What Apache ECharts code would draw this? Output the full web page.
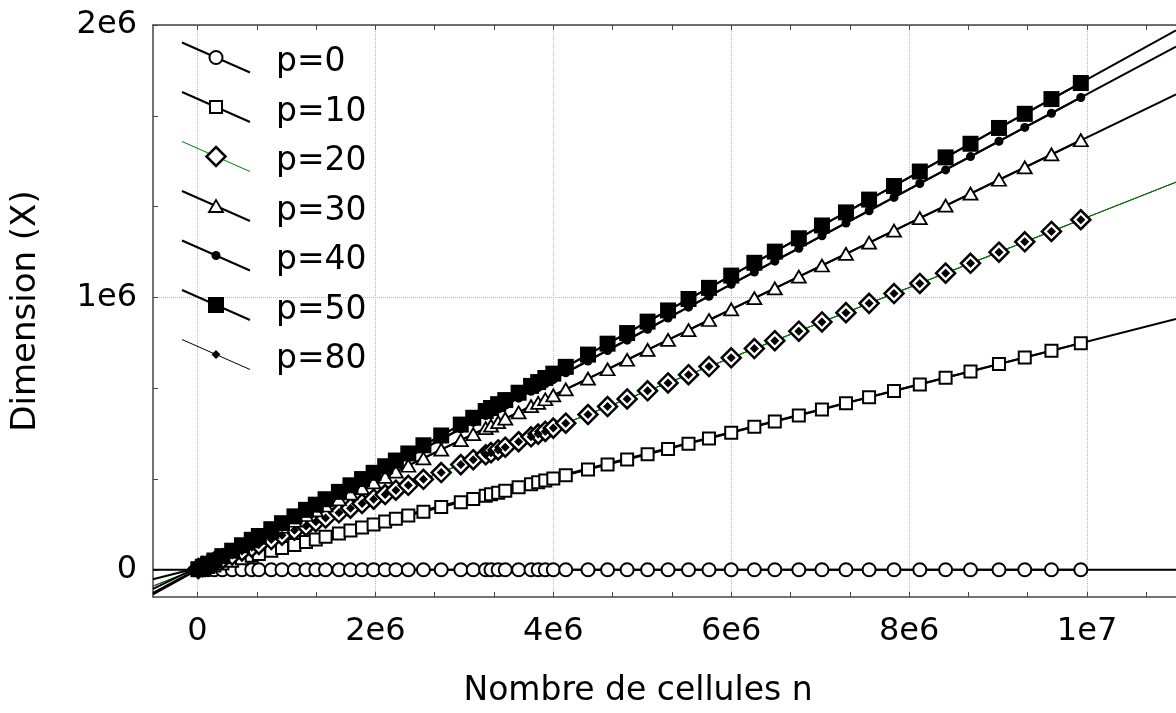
<!DOCTYPE html>
<html>
<head>
<meta charset="utf-8">
<script src="https://cdn.jsdelivr.net/npm/echarts@6/dist/echarts.min.js"></script>
<style>
html,body{margin:0;padding:0;background:#ffffff;}
#chart{width:1176px;height:713px;}
</style>
</head>
<body>
<div id="chart"></div>
<script>
// ---- data (x: number of cells n, in millions; y: dimension X, in millions) ----
const xValues = [0.01, 0.06, 0.12, 0.19, 0.28, 0.39, 0.50, 0.61, 0.69, 0.83,
  0.95, 1.09, 1.22, 1.33, 1.44, 1.59, 1.72, 1.85, 1.98, 2.11,
  2.23, 2.37, 2.54, 2.74, 2.96, 3.10, 3.24, 3.30, 3.38, 3.46,
  3.61, 3.75, 3.83, 3.91, 4.00, 4.14, 4.39, 4.61, 4.83, 5.06,
  5.29, 5.52, 5.75, 6.00, 6.26, 6.49, 6.76, 7.02, 7.29, 7.55,
  7.83, 8.12, 8.41, 8.69, 9.01, 9.30, 9.60, 9.93];

const yP0 = [0, 0, 0, 0, 0, 0, 0, 0, 0, 0,
  0, 0, 0, 0, 0, 0, 0, 0, 0, 0,
  0, 0, 0, 0, 0, 0, 0, 0, 0, 0,
  0, 0, 0, 0, 0, 0, 0, 0, 0, 0,
  0, 0, 0, 0, 0, 0, 0, 0, 0, 0,
  0, 0, 0, 0, 0, 0, 0, 0];

const yP10 = [0.001, 0.005, 0.010, 0.016, 0.023, 0.033, 0.042, 0.051, 0.058, 0.070,
  0.080, 0.091, 0.102, 0.111, 0.121, 0.133, 0.144, 0.155, 0.166, 0.177,
  0.187, 0.199, 0.213, 0.230, 0.248, 0.260, 0.272, 0.277, 0.283, 0.290,
  0.303, 0.314, 0.321, 0.328, 0.335, 0.347, 0.368, 0.386, 0.405, 0.424,
  0.443, 0.463, 0.482, 0.503, 0.525, 0.544, 0.566, 0.588, 0.611, 0.633,
  0.656, 0.680, 0.705, 0.728, 0.755, 0.779, 0.804, 0.832];

const yP20 = [0.005, 0.012, 0.019, 0.029, 0.040, 0.054, 0.069, 0.083, 0.093, 0.111,
  0.127, 0.145, 0.161, 0.176, 0.190, 0.209, 0.226, 0.243, 0.259, 0.276,
  0.292, 0.310, 0.332, 0.357, 0.386, 0.404, 0.422, 0.430, 0.440, 0.450,
  0.470, 0.488, 0.498, 0.508, 0.520, 0.538, 0.570, 0.599, 0.627, 0.657,
  0.686, 0.716, 0.746, 0.778, 0.812, 0.841, 0.876, 0.910, 0.944, 0.978,
  1.014, 1.051, 1.089, 1.125, 1.166, 1.204, 1.242, 1.285];

const yP30 = [0.010, 0.017, 0.027, 0.038, 0.052, 0.070, 0.087, 0.104, 0.117, 0.139,
  0.158, 0.180, 0.201, 0.218, 0.236, 0.259, 0.280, 0.300, 0.321, 0.341,
  0.360, 0.382, 0.409, 0.441, 0.476, 0.498, 0.520, 0.529, 0.542, 0.555,
  0.578, 0.601, 0.613, 0.626, 0.640, 0.662, 0.702, 0.736, 0.771, 0.807,
  0.844, 0.880, 0.917, 0.956, 0.997, 1.033, 1.076, 1.117, 1.160, 1.201,
  1.245, 1.291, 1.337, 1.381, 1.432, 1.477, 1.525, 1.577];

const yP40 = [0.002, 0.010, 0.021, 0.033, 0.049, 0.068, 0.087, 0.107, 0.120, 0.145,
  0.166, 0.190, 0.213, 0.232, 0.251, 0.278, 0.300, 0.323, 0.346, 0.368,
  0.389, 0.414, 0.443, 0.478, 0.517, 0.541, 0.566, 0.576, 0.590, 0.604,
  0.630, 0.655, 0.669, 0.683, 0.698, 0.723, 0.766, 0.805, 0.843, 0.883,
  0.924, 0.964, 1.004, 1.048, 1.093, 1.133, 1.180, 1.226, 1.273, 1.318,
  1.367, 1.418, 1.468, 1.517, 1.573, 1.624, 1.676, 1.734];

const yP50 = [0.002, 0.011, 0.022, 0.034, 0.050, 0.070, 0.090, 0.110, 0.124, 0.149,
  0.171, 0.196, 0.220, 0.239, 0.259, 0.286, 0.310, 0.333, 0.356, 0.380,
  0.401, 0.427, 0.457, 0.493, 0.533, 0.558, 0.583, 0.594, 0.608, 0.623,
  0.650, 0.675, 0.689, 0.704, 0.720, 0.745, 0.790, 0.830, 0.869, 0.911,
  0.952, 0.994, 1.035, 1.080, 1.127, 1.168, 1.217, 1.264, 1.312, 1.359,
  1.409, 1.462, 1.514, 1.564, 1.622, 1.674, 1.728, 1.787];

const yP80 = [0.005, 0.012, 0.019, 0.029, 0.040, 0.054, 0.069, 0.083, 0.093, 0.111,
  0.127, 0.145, 0.161, 0.176, 0.190, 0.209, 0.226, 0.243, 0.259, 0.276,
  0.292, 0.310, 0.332, 0.357, 0.386, 0.404, 0.422, 0.430, 0.440, 0.450,
  0.470, 0.488, 0.498, 0.508, 0.520, 0.538, 0.570, 0.599, 0.627, 0.657,
  0.686, 0.716, 0.746, 0.778, 0.812, 0.841, 0.876, 0.910, 0.944, 0.978,
  1.014, 1.051, 1.089, 1.125, 1.166, 1.204, 1.242, 1.285];

// fitted straight lines, end points read at the left and right edges of the plot
const fitP0  = [[-0.5, 0.000], [11, 0.000]];
const fitP10 = [[-0.5, -0.035], [11, 0.921]];
const fitP20 = [[-0.5, -0.060], [11, 1.423]];
const fitP30 = [[-0.5, -0.070], [11, 1.745]];
const fitP40 = [[-0.5, -0.085], [11, 1.921]];
const fitP50 = [[-0.5, -0.090], [11, 1.980]];
const fitP80 = [[-0.5, -0.060], [11, 1.423]];

const seriesNames = ['p=0', 'p=10', 'p=20', 'p=30', 'p=40', 'p=50', 'p=80'];

// ticks
const xTickValues = [0, 2, 4, 6, 8, 10];
const xTickLabels = ['0', '2e6', '4e6', '6e6', '8e6', '1e7'];
const xMinorTickValues = [0, 0.6667, 1.3333, 2, 2.6667, 3.3333, 4, 4.6667, 5.3333, 6,
  6.6667, 7.3333, 8, 8.6667, 9.3333, 10, 10.6667];
const yTickValues = [0, 1, 2];
const yTickLabels = ['0', '1e6', '2e6'];
const yMinorTickValues = [0, 0.3333, 0.6667, 1, 1.3333, 1.6667, 2];

// ---- chart ----
const FONT = 'DejaVu Sans';
const AX = '#444444';
const X_MIN = -0.5, X_MAX = 11, Y_MIN = -0.1, Y_MAX = 2;

function pairs(ys) { return xValues.map((x, i) => [x, ys[i]]); }
function fmt(values, labels) { return v => { const i = values.findIndex(t => Math.abs(t - v) < 1e-9); return i >= 0 ? labels[i] : ''; }; }

const markerDefs = [
  { name: 'p=0',  ys: yP0,  symbol: 'circle',   size: 13, fill: '#ffffff', bw: 2,   line: { color: '#000', width: 2 } },
  { name: 'p=10', ys: yP10, symbol: 'rect',     size: 12, fill: '#ffffff', bw: 2,   line: { color: '#000', width: 2 } },
  { name: 'p=20', ys: yP20, symbol: 'diamond',  size: 19, fill: '#ffffff', bw: 2.5, line: { color: '#008000', width: 1 } },
  { name: 'p=30', ys: yP30, symbol: 'triangle', size: [14, 12], fill: '#ffffff', bw: 1.8, line: { color: '#000', width: 2 } },
  { name: 'p=40', ys: yP40, symbol: 'circle',   size: 9,  fill: '#000000', bw: 0,   line: { color: '#000', width: 2 } },
  { name: 'p=50', ys: yP50, symbol: 'rect',     size: 16, fill: '#000000', bw: 0,   line: { color: '#000', width: 2 } },
  { name: 'p=80', ys: yP80, symbol: 'diamond',  size: 9,  fill: '#000000', bw: 0,   line: { color: '#000', width: 0, opacity: 0 } }
];
const fitDefs = [
  { name: 'p=0',  d: fitP0,  color: '#000', width: 2 },
  { name: 'p=10', d: fitP10, color: '#000', width: 2 },
  { name: 'p=80', d: fitP80, color: '#000', width: 1 },
  { name: 'p=20', d: fitP20, color: '#008000', width: 1 },
  { name: 'p=30', d: fitP30, color: '#000', width: 2 },
  { name: 'p=40', d: fitP40, color: '#000', width: 2 },
  { name: 'p=50', d: fitP50, color: '#000', width: 2 }
];

const series = [];
markerDefs.forEach(m => {
  series.push({
    type: 'line', name: m.name, xAxisIndex: 0, yAxisIndex: 0, z: 3,
    data: pairs(m.ys), symbol: m.symbol, symbolSize: m.size, showAllSymbol: true,
    itemStyle: { color: m.fill, borderColor: '#000000', borderWidth: m.bw },
    lineStyle: m.line, emphasis: { disabled: true }, silent: true, animation: false
  });
});
fitDefs.forEach(f => {
  series.push({
    type: 'line', name: f.name, xAxisIndex: 0, yAxisIndex: 0, z: 2,
    data: f.d, symbol: 'none', lineStyle: { color: f.color, width: f.width },
    emphasis: { disabled: true }, silent: true, animation: false
  });
});

// ---- legend: text by the legend component, slanted key glyphs drawn beside it ----
const LEG_LEFT = 180, LEG_TOP = 41, LEG_ROW = 33, LEG_GAP = 16.5;
const keyGlyphs = [];
markerDefs.forEach((m, i) => {
  const cy = LEG_TOP + LEG_ROW / 2 + i * (LEG_ROW + LEG_GAP);
  const cx = 216;
  const lineColor = m.name === 'p=20' ? '#008000' : '#000';
  const lineW = (m.name === 'p=20' || m.name === 'p=80') ? 1 : 2;
  keyGlyphs.push({ type: 'line', silent: true, z: 10,
    shape: { x1: 182, y1: cy - 15, x2: 250, y2: cy + 15 },
    style: { stroke: lineColor, lineWidth: lineW } });
  const st = { fill: m.fill, stroke: '#000', lineWidth: m.bw };
  const sz = Array.isArray(m.size) ? m.size : [m.size, m.size];
  let g;
  if (m.symbol === 'circle') {
    g = { type: 'circle', shape: { cx: cx, cy: cy, r: sz[0] / 2 } };
  } else if (m.symbol === 'rect') {
    g = { type: 'rect', shape: { x: cx - sz[0] / 2, y: cy - sz[1] / 2, width: sz[0], height: sz[1] } };
  } else if (m.symbol === 'diamond') {
    g = { type: 'polygon', shape: { points: [[cx, cy - sz[1] / 2], [cx + sz[0] / 2, cy], [cx, cy + sz[1] / 2], [cx - sz[0] / 2, cy]] } };
  } else {
    g = { type: 'polygon', shape: { points: [[cx, cy - sz[1] / 2], [cx + sz[0] / 2, cy + sz[1] / 2], [cx - sz[0] / 2, cy + sz[1] / 2]] } };
  }
  g.style = st; g.silent = true; g.z = 11;
  keyGlyphs.push(g);
});

const baseX = { type: 'value', min: X_MIN, max: X_MAX, gridIndex: 0 };
const baseY = { type: 'value', min: Y_MIN, max: Y_MAX, gridIndex: 0 };

const option = {
  animation: false,
  backgroundColor: '#ffffff',
  grid: { left: 153, right: 0, top: 25, bottom: 113, containLabel: false },
  legend: {
    orient: 'vertical', left: LEG_LEFT, top: LEG_TOP, itemWidth: 72, itemHeight: 18, itemGap: LEG_GAP,
    selectedMode: false,
    itemStyle: { opacity: 0 }, lineStyle: { opacity: 0 },
    textStyle: { fontFamily: FONT, fontSize: 33, color: '#000', padding: [0, 0, 0, 13], lineHeight: LEG_ROW },
    data: seriesNames.map(n => ({ name: n, itemStyle: { opacity: 0 }, lineStyle: { opacity: 0 } }))
  },
  graphic: keyGlyphs,
  xAxis: [
    Object.assign({}, baseX, {
      position: 'bottom',
      axisLine: { show: true, onZero: false, lineStyle: { color: AX, width: 1.5 } },
      axisTick: { show: true, inside: true, length: 5, customValues: xMinorTickValues, lineStyle: { color: AX, width: 1 } },
      axisLabel: { show: true, customValues: xTickValues, formatter: fmt(xTickValues, xTickLabels), margin: 19,
        fontFamily: FONT, fontSize: 32, color: '#000' },
      splitLine: { show: false },
      name: 'Nombre de cellules n', nameLocation: 'middle', nameGap: 78,
      nameTextStyle: { fontFamily: FONT, fontSize: 33, color: '#000', padding: [0, 53, 0, 0] }
    }),
    Object.assign({}, baseX, {
      position: 'top',
      axisLine: { show: true, onZero: false, lineStyle: { color: AX, width: 1.5 } },
      axisTick: { show: true, inside: true, length: 5, customValues: xMinorTickValues, lineStyle: { color: AX, width: 1 } },
      axisLabel: { show: false },
      splitLine: { show: false }
    }),
    Object.assign({}, baseX, {
      position: 'bottom',
      axisLine: { show: false },
      axisTick: { show: false, customValues: xTickValues },
      axisLabel: { show: false },
      splitLine: { show: true, lineStyle: { type: 'dotted', color: '#b8b8b8', width: 1 } }
    })
  ],
  yAxis: [
    Object.assign({}, baseY, {
      position: 'left',
      axisLine: { show: true, onZero: false, lineStyle: { color: AX, width: 1.5 } },
      axisTick: { show: true, inside: true, length: 5, customValues: yMinorTickValues, lineStyle: { color: AX, width: 1 } },
      axisLabel: { show: true, customValues: yTickValues, formatter: fmt(yTickValues, yTickLabels), margin: 16,
        fontFamily: FONT, fontSize: 32, color: '#000' },
      splitLine: { show: false },
      name: 'Dimension (X)', nameLocation: 'middle', nameGap: 110,
      nameTextStyle: { fontFamily: FONT, fontSize: 34, color: '#000' }
    }),
    Object.assign({}, baseY, {
      position: 'left',
      axisLine: { show: false },
      axisTick: { show: false, customValues: yTickValues },
      axisLabel: { show: false },
      splitLine: { show: true, lineStyle: { type: 'dotted', color: '#b8b8b8', width: 1 } }
    })
  ],
  series: series
};

const chart = echarts.init(document.getElementById('chart'), null, { renderer: 'canvas' });
chart.setOption(option);
</script>
</body>
</html>
